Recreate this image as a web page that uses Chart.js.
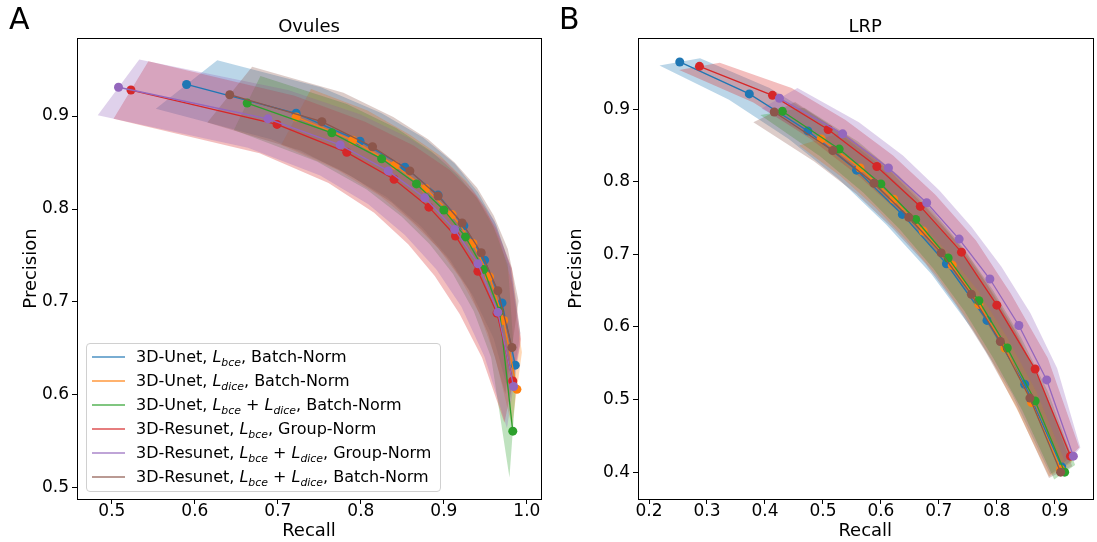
<!DOCTYPE html>
<html>
<head>
<meta charset="utf-8">
<script src="https://cdn.jsdelivr.net/npm/chart.js@4.4.1/dist/chart.umd.min.js"></script>
<style>
  html,body{margin:0;padding:0;background:#fff;font-family:'DejaVu Sans',sans-serif;}
  #wrap{position:relative;width:1097px;height:542px;overflow:hidden;}
  canvas{position:absolute;top:0;}
  #cA{left:0;}
  #cB{left:555px;}
  .legend{position:absolute;left:86px;top:343px;width:355px;height:149px;box-sizing:border-box;
    border:1px solid #d0d0d0;border-radius:4px;background:rgba(255,255,255,0.85);font-size:16px;color:#000;}
  .legend .row{position:absolute;left:0;height:24px;line-height:24px;white-space:nowrap;}
  .legend .handle{position:absolute;left:5px;top:11px;width:33px;height:2px;}
  .legend .txt{position:absolute;left:49px;top:0;}
  .m{font-style:italic;}
  .m sub{font-size:68%;vertical-align:-0.35em;line-height:0;}
</style>
</head>
<body>
<div id="wrap">
  <canvas id="cA" width="555" height="542"></canvas>
  <canvas id="cB" width="542" height="542"></canvas>
  <div id="legendA" class="legend"></div>
</div>
<script>
const palette=['#1f77b4','#ff7f0e','#2ca02c','#d62728','#9467bd','#8c564b'];
const seriesLabels=[
  '3D-Unet, <span class="m">L<sub>bce</sub></span>, Batch-Norm',
  '3D-Unet, <span class="m">L<sub>dice</sub></span>, Batch-Norm',
  '3D-Unet, <span class="m">L<sub>bce</sub></span> + <span class="m">L<sub>dice</sub></span>, Batch-Norm',
  '3D-Resunet, <span class="m">L<sub>bce</sub></span>, Group-Norm',
  '3D-Resunet, <span class="m">L<sub>bce</sub></span> + <span class="m">L<sub>dice</sub></span>, Group-Norm',
  '3D-Resunet, <span class="m">L<sub>bce</sub></span> + <span class="m">L<sub>dice</sub></span>, Batch-Norm'
];

// Ovules panel (A)
const ovulesRecall=[
  [0.590,0.722,0.799,0.853,0.893,0.924,0.949,0.970,0.986],
  [0.722,0.790,0.841,0.878,0.910,0.935,0.955,0.972,0.988],
  [0.663,0.765,0.825,0.867,0.900,0.926,0.948,0.967,0.983],
  [0.523,0.699,0.783,0.840,0.882,0.914,0.941,0.964,0.983],
  [0.508,0.688,0.775,0.833,0.877,0.913,0.941,0.965,0.984],
  [0.642,0.753,0.814,0.859,0.893,0.922,0.945,0.965,0.982]
];
const ovulesPrecision=[
  [0.934,0.903,0.873,0.845,0.815,0.782,0.745,0.699,0.632],
  [0.899,0.874,0.847,0.822,0.794,0.763,0.727,0.680,0.606],
  [0.914,0.882,0.854,0.827,0.799,0.770,0.735,0.690,0.561],
  [0.928,0.891,0.861,0.832,0.802,0.771,0.733,0.688,0.615],
  [0.931,0.897,0.869,0.841,0.812,0.778,0.741,0.689,0.609],
  [0.923,0.894,0.867,0.841,0.814,0.785,0.753,0.712,0.651]
];
const ovulesRecallStd=[
  [0.037,0.030,0.026,0.022,0.020,0.017,0.014,0.010,0.006],
  [0.018,0.018,0.018,0.018,0.017,0.015,0.012,0.010,0.006],
  [0.016,0.018,0.018,0.018,0.017,0.015,0.012,0.010,0.004],
  [0.021,0.021,0.022,0.024,0.025,0.025,0.022,0.018,0.010],
  [0.025,0.024,0.024,0.024,0.024,0.022,0.020,0.016,0.008],
  [0.027,0.026,0.025,0.022,0.020,0.018,0.015,0.012,0.008]
];
const ovulesPrecisionStd=[
  [0.026,0.028,0.030,0.032,0.034,0.036,0.038,0.038,0.035],
  [0.030,0.032,0.033,0.035,0.036,0.038,0.040,0.040,0.040],
  [0.029,0.031,0.033,0.035,0.037,0.040,0.045,0.050,0.050],
  [0.031,0.031,0.033,0.036,0.040,0.043,0.046,0.048,0.045],
  [0.030,0.031,0.033,0.036,0.040,0.043,0.046,0.048,0.045],
  [0.030,0.031,0.032,0.034,0.036,0.038,0.040,0.045,0.050]
];
const ovulesXTicks=[0.5,0.6,0.7,0.8,0.9,1.0];
const ovulesYTicks=[0.5,0.6,0.7,0.8,0.9];

// LRP panel (B)
const lrpRecall=[
  [0.253,0.373,0.474,0.558,0.637,0.713,0.783,0.848,0.912],
  [0.497,0.564,0.622,0.673,0.723,0.769,0.814,0.860,0.910],
  [0.430,0.528,0.600,0.660,0.716,0.769,0.818,0.866,0.917],
  [0.287,0.413,0.509,0.593,0.668,0.739,0.800,0.866,0.927],
  [0.425,0.534,0.613,0.679,0.735,0.788,0.838,0.886,0.932],
  [0.416,0.517,0.588,0.648,0.704,0.756,0.806,0.857,0.910]
];
const lrpPrecision=[
  [0.965,0.921,0.870,0.816,0.755,0.687,0.609,0.521,0.407],
  [0.859,0.819,0.776,0.732,0.685,0.631,0.571,0.496,0.404],
  [0.897,0.845,0.797,0.748,0.695,0.636,0.571,0.498,0.400],
  [0.959,0.919,0.872,0.821,0.766,0.703,0.630,0.542,0.422],
  [0.915,0.866,0.819,0.771,0.721,0.666,0.602,0.527,0.422],
  [0.896,0.843,0.798,0.751,0.702,0.645,0.580,0.502,0.400]
];
const lrpRecallStd=[
  [0.035,0.035,0.033,0.030,0.028,0.026,0.024,0.022,0.020],
  [0.038,0.034,0.031,0.029,0.027,0.026,0.025,0.023,0.020],
  [0.038,0.033,0.030,0.028,0.026,0.025,0.024,0.022,0.018],
  [0.035,0.033,0.030,0.028,0.026,0.025,0.024,0.022,0.015],
  [0.031,0.028,0.025,0.022,0.021,0.020,0.020,0.018,0.012],
  [0.036,0.032,0.030,0.028,0.027,0.026,0.025,0.023,0.020]
];
const lrpPrecisionStd=[
  [0.005,0.008,0.011,0.013,0.014,0.014,0.014,0.013,0.010],
  [0.009,0.011,0.012,0.013,0.014,0.014,0.014,0.013,0.010],
  [0.005,0.010,0.012,0.013,0.014,0.014,0.014,0.013,0.010],
  [0.005,0.010,0.013,0.015,0.016,0.016,0.016,0.015,0.012],
  [0.014,0.016,0.017,0.017,0.017,0.017,0.017,0.016,0.012],
  [0.014,0.015,0.015,0.015,0.015,0.015,0.015,0.013,0.008]
];
const lrpXTicks=[0.2,0.3,0.4,0.5,0.6,0.7,0.8,0.9];
const lrpYTicks=[0.4,0.5,0.6,0.7,0.8,0.9];

function rgba(hex,a){
  const n=parseInt(hex.slice(1),16);
  return `rgba(${n>>16},${(n>>8)&255},${n&255},${a})`;
}

// bands are drawn first (higher order), then all the lines with markers on top
function buildDatasets(recall,precision,rStd,pStd){
  const ds=[];
  recall.forEach((r,i)=>{
    const c=palette[i];
    const upper=r.map((v,k)=>({x:v+rStd[i][k],y:precision[i][k]+pStd[i][k]}));
    const lower=r.map((v,k)=>({x:v-rStd[i][k],y:precision[i][k]-pStd[i][k]})).reverse();
    ds.push({data:upper.concat(lower),borderWidth:0,borderColor:'transparent',pointRadius:0,
      fill:'shape',backgroundColor:rgba(c,0.3),order:200-i});
    ds.push({data:r.map((v,k)=>({x:v,y:precision[i][k]})),borderColor:c,backgroundColor:c,
      borderWidth:1.3,pointRadius:4.5,pointHoverRadius:4.5,pointBorderWidth:0,pointBackgroundColor:c,
      fill:false,order:100-i});
  });
  return ds;
}

const tickFont={family:'DejaVu Sans',size:17,lineHeight:1};
const titleFont={family:'DejaVu Sans',size:18};

const panelDeco={
  id:'panelDeco',
  afterDraw(chart,args,opts){
    const {ctx,chartArea:a}=chart;
    ctx.save();
    ctx.strokeStyle='#000';
    ctx.lineWidth=1;
    ctx.strokeRect(Math.round(a.left)+0.5,Math.round(a.top)+0.5,Math.round(a.right-a.left),Math.round(a.bottom-a.top));
    ctx.fillStyle='#000';
    ctx.textBaseline='middle';
    ctx.textAlign='center';
    ctx.font='18px "DejaVu Sans"';
    ctx.fillText(opts.title,(a.left+a.right)/2,27);
    ctx.textAlign='left';
    ctx.font='30px "DejaVu Sans"';
    ctx.fillText(opts.letter,opts.letterX,21);
    ctx.restore();
  }
};

function makeChart(id,datasets,cfg){
  return new Chart(document.getElementById(id),{
    type:'line',
    data:{datasets},
    plugins:[panelDeco],
    options:{
      responsive:false,
      animation:false,
      layout:{padding:{top:38,right:cfg.padRight,left:0,bottom:0}},
      plugins:{legend:{display:false},tooltip:{enabled:false},
        panelDeco:{title:cfg.title,letter:cfg.letter,letterX:cfg.letterX}},
      scales:{
        x:{type:'linear',min:cfg.xMin,max:cfg.xMax,
          afterBuildTicks:s=>{s.ticks=cfg.xTicks.map(v=>({value:v}));},
          afterFit:s=>{s.height=43;},
          ticks:{font:tickFont,color:'#000',padding:-1,maxRotation:0,callback:v=>v.toFixed(1)},
          grid:{drawOnChartArea:false,drawTicks:true,tickLength:5,color:'#000'},
          border:{display:false},
          title:{display:true,text:'Recall',font:titleFont,color:'#000',padding:{top:0,bottom:0}}},
        y:{type:'linear',min:cfg.yMin,max:cfg.yMax,
          afterBuildTicks:s=>{s.ticks=cfg.yTicks.map(v=>({value:v}));},
          afterFit:s=>{s.width=cfg.yWidth;},
          ticks:{font:tickFont,color:'#000',padding:3,callback:v=>v.toFixed(1)},
          grid:{drawOnChartArea:false,drawTicks:true,tickLength:5,color:'#000'},
          border:{display:false},
          title:{display:true,text:'Precision',font:titleFont,color:'#000',padding:{top:cfg.yTitlePad,bottom:0}}}
      }
    }
  });
}

makeChart('cA',buildDatasets(ovulesRecall,ovulesPrecision,ovulesRecallStd,ovulesPrecisionStd),{
  title:'Ovules',letter:'A',letterX:9,padRight:14,yWidth:77,yTitlePad:21,
  xMin:0.458,xMax:1.017,yMin:0.488,yMax:0.984,xTicks:ovulesXTicks,yTicks:ovulesYTicks});

makeChart('cB',buildDatasets(lrpRecall,lrpPrecision,lrpRecallStd,lrpPrecisionStd),{
  title:'LRP',letter:'B',letterX:4,padRight:2,yWidth:83,yTitlePad:11,
  xMin:0.181,xMax:0.965,yMin:0.363,yMax:0.998,xTicks:lrpXTicks,yTicks:lrpYTicks});

const legendA=document.getElementById('legendA');
seriesLabels.forEach((lab,i)=>{
  const row=document.createElement('div');
  row.className='row';
  row.style.top=(1+i*24)+'px';
  row.innerHTML=`<span class="handle" style="background:${rgba(palette[i],0.6)}"></span><span class="txt">${lab}</span>`;
  legendA.appendChild(row);
});
</script>
</body>
</html>
